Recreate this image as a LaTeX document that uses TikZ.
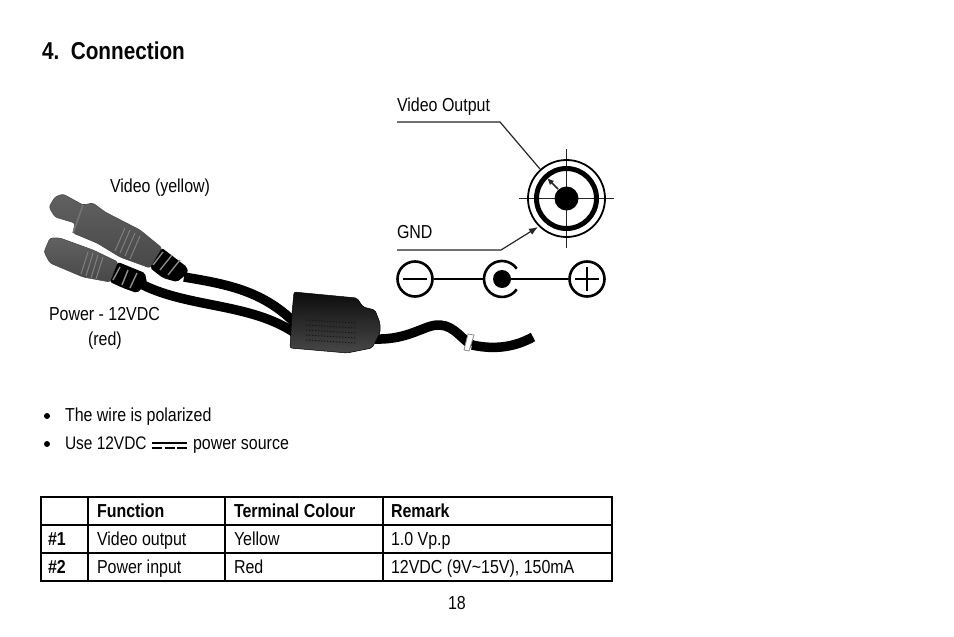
\documentclass[tikz,border=0pt]{standalone}
\usepackage{fontspec}
\setmainfont[FakeStretch=0.85]{Liberation Sans}
\usetikzlibrary{arrows.meta,shadings}
\definecolor{dk}{HTML}{050505}
\tikzset{
 x=1pt,y=-1pt,
 txt/.style={anchor=base west,inner sep=0pt,outer sep=0pt,font=\fontsize{18.8}{20}\selectfont,text=dk},
 bld/.style={txt,font=\fontsize{18.8}{20}\selectfont\bfseries},
 tline/.style={draw=black,line width=1.5pt},
 lead/.style={draw=black!85,line width=1.2pt},
 sym/.style={draw=black,line width=2.6pt},
 rib/.style={draw=black!45,line width=1.4pt},
 cable/.style={draw=black,line width=9.5pt,line cap=butt},
 metal/.style={shading angle=-27,top color=black!62,middle color=black!30,bottom color=black!72,draw=black!70,line width=.6pt,rounded corners=2.5pt},
}
\begin{document}
\begin{tikzpicture}
\useasboundingbox (0,0) rectangle (954,637);
\fill[white] (0,0) rectangle (954,637);
\node[txt,font=\fontsize{24.4}{28}\selectfont\bfseries] (title) at (42,59) {4.\ \ Connection};
% labels
\node[txt] (lv) at (397,111) {Video Output};
\node[txt] (lg) at (397,238) {GND};
\node[txt] (ly) at (110,192) {Video (yellow)};
\node[txt] (lp) at (49,320) {Power - 12VDC};
\node[txt] (lr) at (88,345) {(red)};
% cables
\draw[cable] (184,277) .. controls (225,284) and (262,290) .. (295,323);
\draw[cable] (143,285) .. controls (190,308) and (250,303) .. (295,333);
\draw[cable] (375,339) .. controls (410,340) and (425,324) .. (440,325) .. controls (455,326) and (462,340) .. (472,345);
\draw[cable] (472,345) .. controls (495,350) and (515,347) .. (533,337);
\fill[white,draw=black!45,line width=.8pt] (468,334) -- (474,335) -- (469,351) -- (464,350) -- cycle;
% video plug
\path[metal] (49,207) -- (55,197) -- (63,194) -- (83,205) -- (93,203) -- (105,212) -- (140,230) -- (162,248) -- (150,268) -- (120,257) -- (97,243) -- (73,233) -- (75,223) -- (55,217) -- cycle;
\draw[black!55,line width=1.6pt] (83,205) -- (73,233);
\draw[black!50,line width=1pt] (125,228) -- (115,251) (130,230) -- (120,253) (135,233) -- (125,256) (140,236) -- (130,259);
\fill[black,rounded corners=2pt] (162,248) -- (187,267) -- (188,273) -- (177,282) -- (163,278) -- (150,268) -- cycle;
\draw[rib] (163,252) -- (153,265) (172,255) -- (160,270) (180,260) -- (168,275);
% power plug
\path[metal] (44,252) -- (50,238) -- (60,238) -- (93,250) -- (118,262) -- (110,282) -- (83,277) -- (50,263) -- cycle;
\draw[black!50,line width=1pt] (88,252) -- (81,274) (93,253) -- (86,276) (98,255) -- (91,278) (103,257) -- (96,279);
\fill[black,rounded corners=2pt] (118,262) -- (145,273) -- (147,283) -- (137,293) -- (123,288) -- (110,282) -- cycle;
\draw[rib] (120,267) -- (113,280) (128,270) -- (122,285) (137,273) -- (130,288);
% boot
\path[shading angle=-5,top color=black!95,middle color=black!62,bottom color=black!72,draw=black,line width=.5pt,rounded corners=2pt]
 (294,292) -- (357,298) -- (363,307) -- (375,310) -- (380,323) -- (380,333) -- (372,348) -- (347,353) -- (290,348) -- (292,313) -- cycle;
\foreach \yy in {320,325,330,335,340}
  \draw[black!90,line width=1pt,dash pattern=on 1.5pt off 1.5pt] (306,\yy) -- (356,\yy+3);
% connector symbol
\coordinate (c) at (566.5,198.5);
\draw[lead] (519,198.5) -- (614,198.5) (566.5,149) -- (566.5,248);
\draw[black,line width=1.8pt] (c) circle[radius=38.5];
\draw[black,line width=5pt] (c) circle[radius=30];
\node[circle,fill=black,minimum size=24pt,inner sep=0pt] (pin) at (c) {};
\coordinate (vs) at (397,122);
\coordinate (vk) at (500,122);
\coordinate (ve) at (540,169);
\coordinate (gs) at (397,250);
\coordinate (gk) at (501,250);
\coordinate (ge) at (538,227);
\coordinate (as) at (558,189);
\coordinate (ae) at (547,178);
\draw[lead] (vs) -- (vk) -- (ve);
\draw[lead,line width=1.6pt,-{Latex[length=7pt,width=6pt]}] (as) -- (ae);
\draw[lead,-{Latex[length=9pt,width=7pt]}] (gs) -- (gk) -- (ge);
% polarity
\node[circle,draw=black,line width=2.6pt,minimum size=35pt,inner sep=0pt] (neg) at (415,279) {};
\node[circle,draw=black,line width=2.6pt,minimum size=35pt,inner sep=0pt] (pos) at (587,279) {};
\node[circle,fill=black,minimum size=18pt,inner sep=0pt] (dot) at (502,279) {};
\draw[sym] (403,279) -- (427,279);
\draw[sym] (575,279) -- (599,279) (587,267) -- (587,291);
\draw[sym] (502,279) ++(-35:18) arc[start angle=-35,end angle=-325,radius=18];
\draw[sym,line width=2pt] (neg) -- (484,279);
\draw[sym,line width=2pt] (dot) -- (pos);
% bullets
\fill[black] (47,416) circle[radius=3];
\fill[black] (47,444) circle[radius=3];
\node[txt] (b1) at (65,421) {The wire is polarized};
\node[txt,font=\fontsize{18.2}{20}\selectfont] (b2) at (65,449) {Use 12VDC};
\node[txt] (b3) at (193,449) {power source};
\draw[black,line width=2pt] (152,442.5) -- (187,442.5);
\draw[black,line width=2pt] (152,447.7) -- (162,447.7) (164.5,447.7) -- (174.5,447.7) (177,447.7) -- (187,447.7);
% table
\draw[tline] (41,497) rectangle (612,581);
\draw[tline] (41,525) -- (612,525) (41,553) -- (612,553);
\draw[tline] (88,497) -- (88,581) (225,497) -- (225,581) (383,497) -- (383,581);
\node[bld] (h1) at (97,517) {Function};
\node[bld] (h2) at (234,517) {Terminal Colour};
\node[bld] (h3) at (391,517) {Remark};
\node[bld] (r1) at (48,545) {\#1};
\node[txt] (r1a) at (97,545) {Video output};
\node[txt] (r1b) at (234,545) {Yellow};
\node[txt] (r1c) at (391,545) {1.0 Vp.p};
\node[bld] (r2) at (48,573) {\#2};
\node[txt] (r2a) at (97,573) {Power input};
\node[txt] (r2b) at (234,573) {Red};
\node[txt] (r2c) at (391,573) {12VDC (9V\textasciitilde15V), 150mA};
\node[txt] (pg) at (448,609) {18};
\end{tikzpicture}
\end{document}
